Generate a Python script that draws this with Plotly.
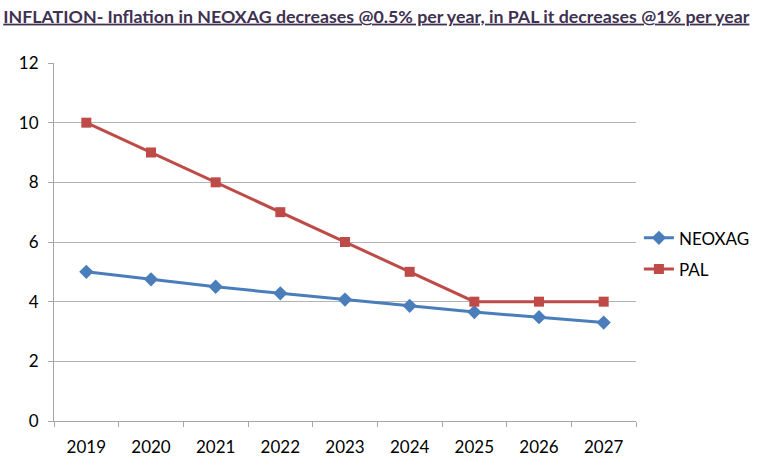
import plotly.graph_objects as go

years = ["2019", "2020", "2021", "2022", "2023", "2024", "2025", "2026", "2027"]
neoxag = [5.0, 4.75, 4.5, 4.28, 4.07, 3.86, 3.65, 3.48, 3.3]
pal = [10, 9, 8, 7, 6, 5, 4, 4, 4]
y_ticks = [0, 2, 4, 6, 8, 10, 12]

font_family = "Lato, Carlito, Calibri, sans-serif"

fig = go.Figure()
fig.add_trace(go.Scatter(
    x=years, y=neoxag, name="NEOXAG", mode="lines+markers", legendgroup="a",
    line=dict(color="#4A7EBB", width=3),
    marker=dict(symbol="diamond", size=11, color="#4A7EBB"),
))
fig.add_trace(go.Scatter(
    x=years, y=pal, name="PAL", mode="lines+markers", legendgroup="b",
    line=dict(color="#BE4B48", width=3),
    marker=dict(symbol="square", size=10, color="#BE4B48"),
))

fig.update_layout(
    width=768, height=469,
    margin=dict(l=54, r=132, t=63, b=46),
    paper_bgcolor="white", plot_bgcolor="white",
    font=dict(family=font_family, size=17, color="#000000"),
    title=dict(
        text="<b><u>INFLATION- Inflation in NEOXAG decreases @0.5% per year, in PAL it decreases @1% per year</u></b>",
        x=0.49, xanchor="center", y=0.965, yanchor="middle",
        font=dict(family=font_family, size=17.8, color="#3F3151"),
    ),
    legend=dict(
        x=1.005, xanchor="left", y=0.467, yanchor="middle",
        font=dict(size=17), bgcolor="rgba(0,0,0,0)",
        tracegroupgap=6, itemwidth=30,
    ),
    xaxis=dict(
        type="category", categoryorder="array", categoryarray=years,
        showgrid=False, showline=True, linecolor="#A6A6A6", linewidth=1,
        ticks="outside", tickson="boundaries", ticklen=5, tickcolor="#A6A6A6",
        tickfont=dict(size=17), range=[-0.5, 8.5], ticklabelstandoff=11,
    ),
    yaxis=dict(
        range=[0, 12], tickvals=y_ticks, showgrid=True, gridcolor="#B3B3B3", gridwidth=1,
        showline=True, linecolor="#A6A6A6", linewidth=1,
        ticks="outside", ticklen=5, tickcolor="#A6A6A6",
        tickfont=dict(size=17), zeroline=False, ticklabelstandoff=6,
    ),
)

fig.write_html("out.html")
